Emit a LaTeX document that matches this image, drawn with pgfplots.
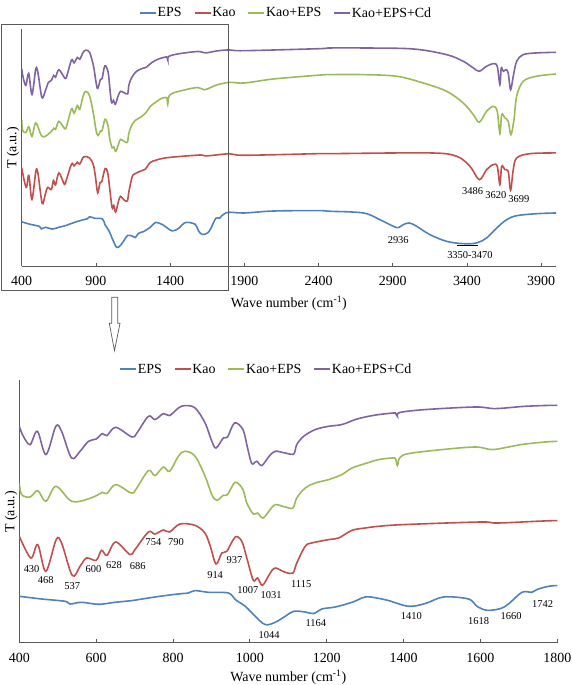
\documentclass[border=0pt]{standalone}
\usepackage{fontspec}
\setmainfont{Liberation Serif}
\usepackage{pgfplots}
\usepackage{pgfplotstable}
\pgfplotsset{compat=1.18}
\definecolor{cEPS}{HTML}{4F81BD}
\definecolor{cKao}{HTML}{C0504D}
\definecolor{cKE}{HTML}{9BBB59}
\definecolor{cKEC}{HTML}{8064A2}
\definecolor{axgray}{HTML}{5A5A5A}

\pgfplotstableread{
x y
400 46
458 43.3
519 41
532 38.3
562 40
606 38
649 40
692.6 41.7
736 44.3
779 46.7
823 48.7
840 49.3
857.5 51.7
892 50
944 49.3
962 42.7
988 36
1014 26
1040 17.7
1066 20
1092 26
1114 31
1144 30.3
1166 28.7
1187 33.3
1222 35.3
1266 40
1300 45.3
1330 44.3
1361 41.7
1413 36
1456 38.7
1504 45.3
1569 43.3
1591 36
1617 32
1652 33.7
1673 38.3
1708 50
1734 50
1747 52.7
1769 55.3
1800 56.7
1900 55.9
2098 58.1
2400 58.5
2477 57.8
2702 55.9
2814 48.4
2904 41.1
2937 39.6
2971 42.9
3011 44.8
3061 41.1
3151 31.8
3263 24.4
3375 21.8
3465 22.6
3532 28.1
3600 39.2
3667 48.4
3735 52.9
3869 55.1
4000 55.9
}\tEPS

\pgfplotstableread{
x y
400 106
430 84.3
448 97.7
469 71
496 102.7
510 99.3
538 66.7
558 76
575 84.3
600 82
614 92
628 87
651 100.3
688 87.7
701 92.7
736 110.3
753 108.3
775 112.3
791 110.3
818 118.3
857 117
883 109.3
897 96
912 78.3
927 89.3
940 91
962 105.3
979 101
992 84.3
1009 62
1020 64.3
1033 57
1053 69.3
1066 74.3
1092 70
1112 69.3
1122 79.3
1144 96
1161 99.3
1205 102.7
1231 104.3
1266 112
1300 114.3
1335 116
1400 117.7
1600 120.3
1647 119.3
1800 121.7
1900 120
2400 121.8
2477 121.8
3151 122.6
3330 118.9
3420 107.8
3483 92.9
3532 104
3577 109.6
3604 107.8
3622 87.3
3634 107.8
3656 104
3678 102.2
3694 81.1
3712 104
3735 117
3824 121.8
4000 122.6
}\tKao

\pgfplotstableread{
x y
400 159.3
406 147.7
428 145.3
448 151.7
469 141
495 156
532 142
558 141
597 146
616 150
628 148.7
651 157.7
691 149.3
703 152.7
736 171.7
753 166.7
775 175.3
791 171
814 186
831 191
857.5 186
883.5 166
901 147.7
914 142
931 147
942 147.7
962 160
982 152.7
992 139.3
1009 128.3
1020 129.3
1034 124.3
1053 132.7
1066 137.7
1092 135.3
1112 134.3
1122 144.3
1144 154.3
1170 159.3
1205 162.7
1239 167.7
1266 174.3
1300 178.7
1335 182.7
1370 184.3
1379 183.5
1384 176.7
1390 184.5
1413 188.7
1500 192.7
1587 195.3
1630 192.7
1673 195.3
1717 198.3
1800 201
1900 200.3
2098 204.8
2393 208.9
2477 209.6
2702 209.6
2926 207.8
3106 200.3
3263 191.1
3375 178.1
3443 165.1
3483 156.7
3532 168.9
3577 174.4
3604 168.9
3622 144
3634 165.1
3656 161.4
3678 157.8
3696 142.9
3717 159.6
3735 185.6
3779 202.2
3869 207.8
4000 210.3
}\tKE

\pgfplotstableread{
x y
400 216
410.5 206
428 197.7
447 211
469.5 187.7
495 216
510 211
536 184.3
558 191
580 201
600 203.3
616 208.7
628 206.7
651 215
693 205.3
706 209.3
736 226
753 222.7
775 228.7
791 226.7
814 234.3
831 236.7
857.5 234.3
883.5 219.3
901 201
912 194.3
931 204.3
942 205.3
960 219.3
982 212.7
994 194.3
1005 178.7
1018 181
1031 176.7
1050 186
1066 191
1092 189.3
1114 188.3
1122 197.7
1140 206
1170 212.7
1205 216
1239 217.7
1274 222.7
1300 225.3
1335 227.7
1374 229.3
1379 229
1384 226
1390 229.8
1456 232.7
1587 235.3
1639 233.7
1717 236
1800 237
1900 236.2
2400 238.4
2477 239.2
2702 239.2
3038 238.1
3263 231.8
3375 224.4
3443 217
3483 213.3
3532 218.9
3577 221.8
3604 218.9
3622 198.4
3631 217
3645 213.3
3663 215.1
3678 211.4
3694 192.9
3712 207.8
3735 224.4
3779 231.8
3869 233.7
4000 234.4
}\tKEC

\tikzset{annot/.style={font=\fontsize{10.5}{12}\selectfont, inner sep=0pt}}

\pgfplotsset{
  irstyle/.style={
    scale only axis,
    axis lines=left,
    axis line style={-, draw=axgray, line width=0.8bp},
    ytick=\empty,
    tick align=inside,
    major tick length=3.5bp,
    tick style={draw=axgray, line width=0.8bp},
    /pgf/number format/assume math mode=true,
    /pgf/number format/1000 sep={},
    xticklabel style={font=\fontsize{14}{16}\selectfont},
    label style={font=\fontsize{14}{16}\selectfont},
    xlabel={Wave number (cm\textsuperscript{-1})},
    ylabel={T (a.u.)},
    legend style={draw=none, fill=none, anchor=center, legend columns=4,
      font=\fontsize{14}{16}\selectfont,
      /tikz/every even column/.append style={column sep=11bp},
      inner sep=0pt, nodes={inner sep=1bp}},
    legend image code/.code={\draw[##1, line width=1.6bp] (0bp,0bp) -- (16bp,0bp);},
    every axis plot/.append style={line width=1.6bp, smooth, tension=0.55},
  },
}

\begin{document}
\begin{tikzpicture}
\useasboundingbox (0bp,0bp) rectangle (572bp,685bp);

% top panel
\begin{axis}[irstyle,
  at={(21.7bp,421.7bp)}, anchor=origin,
  width=534.3bp, height=237.3bp,
  xmin=400, xmax=4000, ymin=-3.33, ymax=260.3,
  xtick={400,900,1400,1900,2400,2900,3400,3900},
  xticklabel style={yshift=-6bp},
  xlabel style={at={(axis description cs:0.5,-0.1547)}, anchor=center},
  ylabel style={at={(axis description cs:-0.0163,0.4985)}, anchor=center},
  legend style={at={(0.494,1.067)}},
]
\addplot[cEPS] table {\tEPS};
\addplot[cKao] table {\tKao};
\addplot[cKE] table {\tKE};
\addplot[cKEC] table {\tKEC};
\legend{EPS,Kao,Kao+EPS,Kao+EPS+Cd}
\node[annot] at (axis cs:3438,80.7) {3486};
\node[annot] at (axis cs:3595,76.2) {3620};
\node[annot] at (axis cs:3750,71.8) {3699};
\node[annot] at (axis cs:2937,26.3) {2936};
\node[annot] at (axis cs:3420,9.6) {3350-3470};
\draw[black, line width=0.5bp] (axis cs:3335,20.5) -- (axis cs:3476,20.5);
\end{axis}

% frame and arrow
\draw[axgray, line width=0.9bp] (1.3bp,394.3bp) rectangle (228.3bp,661bp);
\draw[axgray, line width=0.7bp, fill=white]
  (111.7bp,387.7bp) -- (117.7bp,387.7bp) -- (117.7bp,361.7bp) -- (120bp,361.7bp)
  -- (114.5bp,334.3bp) -- (109.3bp,361.7bp) -- (111.7bp,361.7bp) -- cycle;

% bottom panel
\begin{axis}[irstyle,
  at={(19.3bp,42.7bp)}, anchor=origin,
  width=538bp, height=262.3bp,
  xmin=400, xmax=1800, ymin=-0.3, ymax=262,
  xtick={400,600,...,1800},
  xticklabel style={yshift=-6.8bp},
  xlabel style={at={(axis description cs:0.5,-0.131)}, anchor=center},
  ylabel style={at={(axis description cs:-0.0154,0.498)}, anchor=center},
  legend style={at={(0.458,1.042)}},
]
\addplot[cEPS] table {\tEPS};
\addplot[cKao] table {\tKao};
\addplot[cKE] table {\tKE};
\addplot[cKEC] table {\tKEC};
\legend{EPS,Kao,Kao+EPS,Kao+EPS+Cd}
\node[annot] at (axis cs:432,73.3) {430};
\node[annot] at (axis cs:468.7,62) {468};
\node[annot] at (axis cs:538,56) {537};
\node[annot] at (axis cs:592.8,73.3) {600};
\node[annot] at (axis cs:646.6,77.3) {628};
\node[annot] at (axis cs:708,76) {686};
\node[annot] at (axis cs:749,100) {754};
\node[annot] at (axis cs:808,100) {790};
\node[annot] at (axis cs:909.6,67.7) {914};
\node[annot] at (axis cs:960,82.7) {937};
\node[annot] at (axis cs:994.6,52) {1007};
\node[annot] at (axis cs:1055.4,47.7) {1031};
\node[annot] at (axis cs:1133.5,58.7) {1115};
\node[annot] at (axis cs:1050,7.7) {1044};
\node[annot] at (axis cs:1171.7,19.3) {1164};
\node[annot] at (axis cs:1420,26) {1410};
\node[annot] at (axis cs:1595,21.7) {1618};
\node[annot] at (axis cs:1680,26) {1660};
\node[annot] at (axis cs:1762,38.7) {1742};
\end{axis}
\end{tikzpicture}
\end{document}
